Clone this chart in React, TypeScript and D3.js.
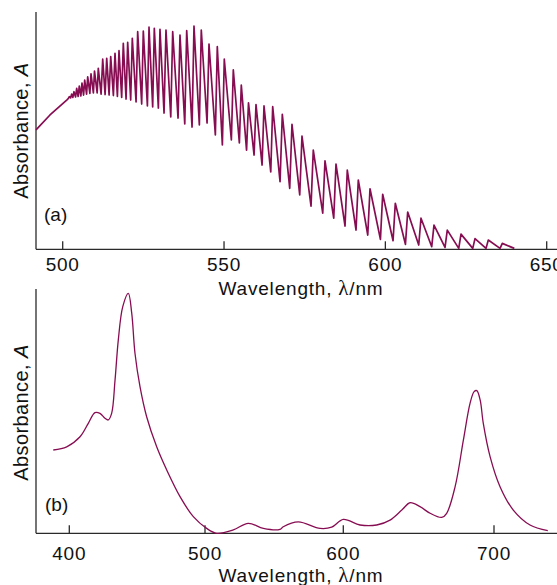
import React from "react";
import * as d3 from "d3";

// ---------- Panel (a): vibrational band structure ----------
const startNm = [491.73, 496.06, 501.24];
const startA = [0.503, 0.566, 0.629];

const headNm = [502.05, 502.79, 503.5, 504.34, 505.14, 505.98, 506.82, 507.75, 508.77, 509.86, 511.03, 512.4, 513.64, 514.88, 516.21, 517.45, 518.78, 520.14, 521.57, 523.24, 524.98, 526.75, 528.39, 530.15, 532.01, 534.09, 536.35, 538.43, 540.69, 542.95, 545.34, 547.91, 550.08, 552.87, 555.35, 557.58, 559.91, 562.39, 565.08, 568.06, 571.06, 574.16, 577.66, 581.29, 584.7, 588.2, 591.61, 595.24, 599.17, 603.08, 606.92, 611.04, 615.07, 619.19, 623.44, 627.78, 631.9, 636.24];
const headA = [0.643, 0.654, 0.664, 0.678, 0.688, 0.7, 0.713, 0.727, 0.739, 0.751, 0.763, 0.801, 0.805, 0.812, 0.826, 0.837, 0.868, 0.872, 0.889, 0.917, 0.92, 0.936, 0.931, 0.927, 0.924, 0.917, 0.903, 0.922, 0.941, 0.924, 0.865, 0.854, 0.801, 0.756, 0.692, 0.617, 0.61, 0.604, 0.601, 0.569, 0.527, 0.477, 0.418, 0.373, 0.359, 0.334, 0.292, 0.255, 0.232, 0.194, 0.157, 0.131, 0.102, 0.081, 0.064, 0.045, 0.039, 0.025];
const footNm = [501.7, 502.44, 503.15, 503.99, 504.79, 505.63, 506.47, 507.4, 508.42, 509.51, 510.68, 511.9, 513.14, 514.38, 515.71, 516.95, 518.28, 519.64, 521.07, 522.74, 524.48, 526.25, 527.89, 529.65, 531.41, 533.49, 535.75, 537.83, 540.09, 542.35, 544.74, 547.31, 549.48, 552.27, 554.75, 556.98, 559.31, 561.79, 564.48, 567.36, 570.36, 573.46, 576.96, 580.59, 584.0, 587.5, 590.91, 594.54, 598.47, 602.38, 606.22, 610.34, 614.37, 618.49, 622.74, 627.08, 631.2, 635.54];
const footA = [0.635, 0.638, 0.64, 0.642, 0.644, 0.646, 0.65, 0.654, 0.657, 0.659, 0.659, 0.654, 0.652, 0.65, 0.648, 0.644, 0.64, 0.633, 0.629, 0.621, 0.612, 0.604, 0.6, 0.595, 0.574, 0.558, 0.553, 0.528, 0.515, 0.524, 0.532, 0.482, 0.44, 0.461, 0.448, 0.418, 0.397, 0.355, 0.326, 0.285, 0.257, 0.229, 0.182, 0.152, 0.131, 0.098, 0.081, 0.06, 0.042, 0.036, 0.021, 0.018, 0.011, 0.008, 0.004, 0.004, 0.004, 0.004];
const endNm = [639.96];
const endA = [0.004];

const ticksA = [500, 550, 600, 650];

// ---------- Panel (b): smooth spectrum ----------
const specNm = [388.2, 398.1, 407.9, 414.0, 418.9, 422.6, 426.3, 428.7, 431.2, 433.7, 436.1, 439.4, 443.5, 446.0, 448.4, 452.1, 457.0, 464.4, 471.8, 481.6, 491.4, 501.2, 508.5, 520.5, 531.3, 542.2, 554.2, 556.6, 567.5, 583.2, 591.6, 600.0, 611.1, 622.2, 631.0, 638.8, 644.3, 650.9, 657.6, 665.3, 668.6, 674.2, 679.7, 684.1, 686.8, 688.6, 690.8, 692.9, 697.4, 704.0, 712.8, 723.9, 735.7];
const specA = [0.341, 0.354, 0.395, 0.45, 0.494, 0.491, 0.471, 0.464, 0.491, 0.627, 0.791, 0.928, 0.982, 0.901, 0.737, 0.6, 0.477, 0.354, 0.259, 0.15, 0.068, 0.02, 0.0, 0.014, 0.041, 0.02, 0.016, 0.027, 0.047, 0.02, 0.025, 0.057, 0.034, 0.034, 0.054, 0.095, 0.125, 0.109, 0.082, 0.065, 0.082, 0.191, 0.382, 0.532, 0.58, 0.584, 0.546, 0.45, 0.314, 0.191, 0.095, 0.034, 0.011];

const ticksB = [400, 500, 600, 700];

const FONT = "'Liberation Sans', Arial, Helvetica, sans-serif";
const SERIF = "'Liberation Serif', 'Times New Roman', serif";
const LINE = "#870d52";
const AXIS = "#2a2a2a";

export default function App() {
  const xA = d3.scaleLinear().domain([500, 650]).range([62.7, 546.7]);
  const yA = d3.scaleLinear().domain([0, 1]).range([249.3, 12]);
  const xB = d3.scaleLinear().domain([400, 500, 600, 700]).range([69.3, 205, 343.3, 494]);
  const yB = d3.scaleLinear().domain([0, 1]).range([533.3, 289]);

  const ptsA: [number, number][] = [];
  startNm.forEach((n, i) => ptsA.push([n, startA[i]]));
  headNm.forEach((n, i) => {
    ptsA.push([footNm[i], footA[i]]);
    ptsA.push([n, headA[i]]);
  });
  endNm.forEach((n, i) => ptsA.push([n, endA[i]]));
  const lineA = d3
    .line<[number, number]>()
    .x((d) => xA(d[0]))
    .y((d) => yA(d[1]))
    .curve(d3.curveLinear);

  const ptsB: [number, number][] = specNm.map((n, i) => [n, specA[i]]);
  const lineB = d3
    .line<[number, number]>()
    .x((d) => xB(d[0]))
    .y((d) => yB(d[1]))
    .curve(d3.curveCatmullRom.alpha(0.5));

  const tickFont = { fontFamily: FONT, fontSize: 19, letterSpacing: 0.8 } as const;

  const xTitle = (y: number) => (
    <text x={301} y={y} textAnchor="middle" {...tickFont} fill="#111">
      Wavelength, <tspan fontFamily={SERIF} fontSize={21}>λ</tspan>/nm
    </text>
  );
  const yTitle = (cy: number) => (
    <text
      transform={`translate(28,${cy}) rotate(-90)`}
      textAnchor="middle"
      fontFamily={FONT}
      fontSize={20}
      letterSpacing={0.4}
      fill="#111"
    >
      Absorbance, <tspan fontStyle="italic">A</tspan>
    </text>
  );

  return (
    <svg
      width={557}
      height={585}
      style={{ position: "absolute", left: 0, top: 0, background: "#fff" }}
    >
      {/* ---------- Panel (a) ---------- */}
      <g>
        <line x1={36} x2={36} y1={yA(1)} y2={yA(0)} stroke={AXIS} strokeWidth={1.3} />
        <line x1={36} x2={557} y1={yA(0)} y2={yA(0)} stroke={AXIS} strokeWidth={1.3} />
        {ticksA.map((t) => (
          <g key={t}>
            <line x1={xA(t)} x2={xA(t)} y1={yA(0)} y2={yA(0) - 8} stroke={AXIS} strokeWidth={1.3} />
            <text x={xA(t)} y={271} textAnchor="middle" {...tickFont} fill="#111">
              {t}
            </text>
          </g>
        ))}
        <path d={lineA(ptsA) || ""} fill="none" stroke={LINE} strokeWidth={1.7} strokeLinejoin="round" />
        <text x={44} y={221} fontFamily={FONT} fontSize={19} fill="#111">(a)</text>
        {yTitle((yA(0) + yA(1)) / 2)}
        {xTitle(295)}
      </g>

      {/* ---------- Panel (b) ---------- */}
      <g>
        <line x1={36} x2={36} y1={yB(1)} y2={yB(0)} stroke={AXIS} strokeWidth={1.3} />
        <line x1={36} x2={557} y1={yB(0)} y2={yB(0)} stroke={AXIS} strokeWidth={1.3} />
        {ticksB.map((t) => (
          <g key={t}>
            <line x1={xB(t)} x2={xB(t)} y1={yB(0)} y2={yB(0) - 8} stroke={AXIS} strokeWidth={1.3} />
            <text x={xB(t)} y={559.5} textAnchor="middle" {...tickFont} fill="#111">
              {t}
            </text>
          </g>
        ))}
        <path d={lineB(ptsB) || ""} fill="none" stroke={LINE} strokeWidth={1.3} />
        <text x={45} y={511} fontFamily={FONT} fontSize={19} fill="#111">(b)</text>
        {yTitle(412.5)}
        {xTitle(582)}
      </g>
    </svg>
  );
}
